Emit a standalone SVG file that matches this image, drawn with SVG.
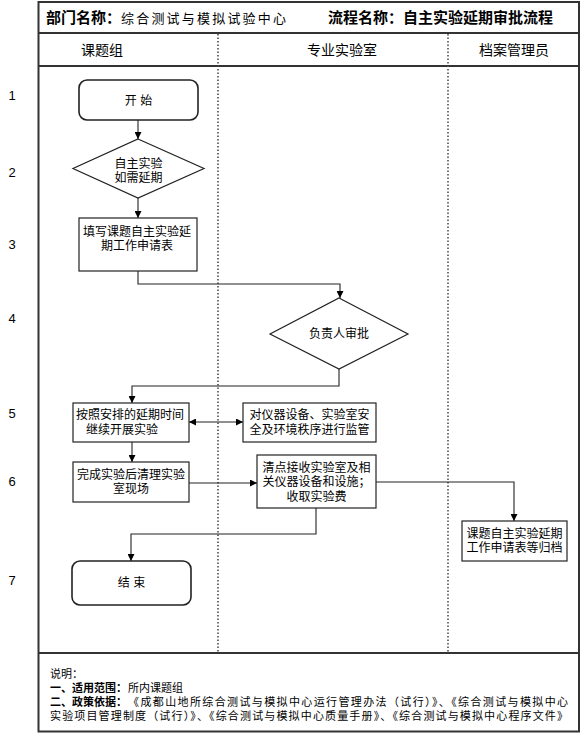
<svg xmlns="http://www.w3.org/2000/svg" width="581" height="733" viewBox="0 0 581 733">
<defs>
<style>
text{font-family:"Liberation Sans","Noto Sans CJK SC",sans-serif;fill:#000}
.t{font-size:12px;text-anchor:middle}
.num{font-size:13px;text-anchor:middle}
.lane{font-size:14px;text-anchor:middle}
.hb{font-size:15px;font-weight:bold}
.hn{font-size:13px}
.nt{font-size:11px}
.nb{font-size:11px;font-weight:bold}
.box{fill:#fff;stroke:#222;stroke-width:1.2}
.rbox{fill:#fff;stroke:#222;stroke-width:1.6}
.frame{fill:none;stroke:#333;stroke-width:2}
.dot{stroke:#444;stroke-width:1.5;stroke-dasharray:1.5 2}
.con{fill:none;stroke:#222;stroke-width:1.1}
</style>
<marker id="ah" viewBox="0 0 10 10" refX="10" refY="5" markerWidth="7" markerHeight="7" markerUnits="userSpaceOnUse" orient="auto-start-reverse">
<path d="M0,0 L10,5 L0,10 z" fill="#000"/>
</marker>
</defs>
<rect width="581" height="733" fill="#fff"/>
<g id="frame">
<rect class="frame" x="38.5" y="2" width="540.5" height="729.5"/>
<line class="frame" x1="38.5" y1="33" x2="579" y2="33"/>
<line class="frame" x1="38.5" y1="66" x2="579" y2="66"/>
<line class="frame" x1="38.5" y1="653" x2="579" y2="653"/>
<line class="dot" x1="218" y1="34" x2="218" y2="652"/>
<line class="dot" x1="448" y1="34" x2="448" y2="652"/>
</g>
<g id="header">
<text x="46" y="22.5"><tspan class="hb">部门名称：</tspan><tspan class="hn" letter-spacing="2.2">综合测试与模拟试验中心</tspan></text>
<text class="hb" x="328" y="22.5">流程名称：自主实验延期审批流程</text>
<text class="lane" x="102" y="55">课题组</text>
<text class="lane" x="342" y="55">专业实验室</text>
<text class="lane" x="514" y="55">档案管理员</text>
</g>
<g id="rows">
<text class="num" x="12" y="100">1</text>
<text class="num" x="12" y="177">2</text>
<text class="num" x="12" y="249">3</text>
<text class="num" x="12" y="323">4</text>
<text class="num" x="12" y="418">5</text>
<text class="num" x="12" y="486">6</text>
<text class="num" x="12" y="585">7</text>
</g>
<g id="connectors">
<line class="con" x1="138" y1="120" x2="138" y2="139" marker-end="url(#ah)"/>
<line class="con" x1="138" y1="198" x2="138" y2="218" marker-end="url(#ah)"/>
<polyline class="con" points="138,271 138,284 340,284 340,298" marker-end="url(#ah)"/>
<polyline class="con" points="339,369 339,386 132,386 132,403" marker-end="url(#ah)"/>
<line class="con" x1="189" y1="422" x2="243" y2="422" marker-start="url(#ah)" marker-end="url(#ah)"/>
<line class="con" x1="132" y1="442" x2="132" y2="462" marker-end="url(#ah)"/>
<line class="con" x1="189" y1="483" x2="257" y2="483" marker-end="url(#ah)"/>
<polyline class="con" points="376,482 514,482 514,521" marker-end="url(#ah)"/>
<polyline class="con" points="316,508 316,534 131,534 131,561" marker-end="url(#ah)"/>
</g>
<g id="start">
<rect class="rbox" x="79" y="80" width="119" height="40" rx="8"/>
<text class="t" x="138.5" y="104.5">开 始</text>
</g>
<g id="decide-extend">
<polygon class="box" points="138,139 204,168.5 138,198 73,168.5"/>
<text class="t" x="138.5" y="168">自主实验</text>
<text class="t" x="138.5" y="182">如需延期</text>
</g>
<g id="fill-form">
<rect class="box" x="79" y="218" width="118" height="53"/>
<text class="t" x="137" y="236">填写课题自主实验延</text>
<text class="t" x="137" y="250">期工作申请表</text>
</g>
<g id="approve">
<polygon class="box" points="339,298 408,334 339,369 270,334"/>
<text class="t" x="339" y="338">负责人审批</text>
</g>
<g id="continue">
<rect class="box" x="73" y="403" width="116" height="39"/>
<text class="t" x="130" y="419">按照安排的延期时间</text>
<text class="t" x="122" y="434">继续开展实验</text>
</g>
<g id="supervise">
<rect class="box" x="243" y="403" width="133" height="39"/>
<text class="t" x="309.5" y="419">对仪器设备、实验室安</text>
<text class="t" x="309.5" y="434">全及环境秩序进行监管</text>
</g>
<g id="cleanup">
<rect class="box" x="73" y="462" width="116" height="40"/>
<text class="t" x="131" y="479">完成实验后清理实验</text>
<text class="t" x="131" y="493">室现场</text>
</g>
<g id="receive">
<rect class="box" x="257" y="455" width="119" height="53"/>
<text class="t" x="316.5" y="472">清点接收实验室及相</text>
<text class="t" x="316.5" y="486">关仪器设备和设施；</text>
<text class="t" x="316.5" y="501">收取实验费</text>
</g>
<g id="archive">
<rect class="box" x="462" y="521" width="105" height="40"/>
<text class="t" x="514.5" y="538">课题自主实验延期</text>
<text class="t" x="514.5" y="552">工作申请表等归档</text>
</g>
<g id="end">
<rect class="rbox" x="72" y="561" width="119" height="44" rx="8"/>
<text class="t" x="131.5" y="587">结 束</text>
</g>
<g id="notes">
<text class="nt" x="50" y="678">说明：</text>
<text class="nb" x="50" y="692">一、适用范围：</text>
<text class="nt" x="128" y="692">所内课题组</text>
<text class="nb" x="50" y="706">二、政策依据：</text>
<text class="nt" x="128" y="706" textLength="440" lengthAdjust="spacing">《成都山地所综合测试与模拟中心运行管理办法（试行）》、《综合测试与模拟中心</text>
<text class="nt" x="50" y="720" textLength="518" lengthAdjust="spacing">实验项目管理制度（试行）》、《综合测试与模拟中心质量手册》、《综合测试与模拟中心程序文件》</text>
</g>
</svg>
